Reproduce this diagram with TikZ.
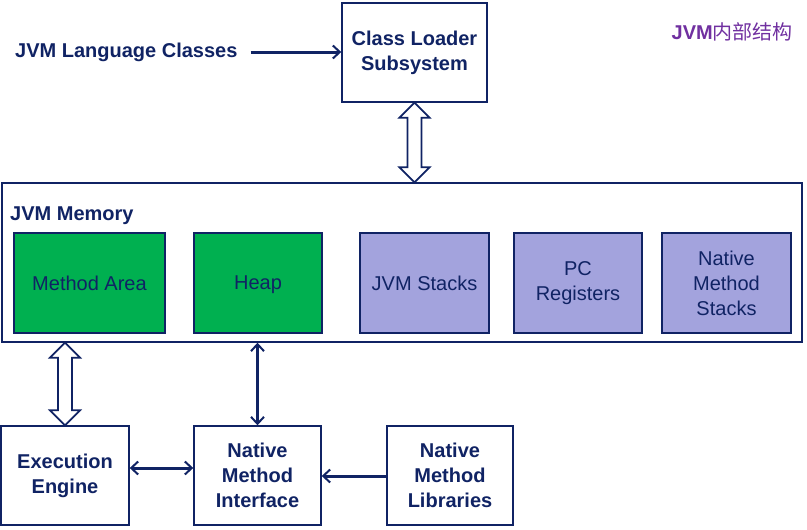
\documentclass[tikz,border=0pt]{standalone}
\usepackage{fontspec}
\setmainfont{Liberation Sans}
\newfontfamily\cjk{Noto Sans CJK SC}
\usetikzlibrary{arrows.meta,positioning,calc}
\definecolor{navy}{HTML}{102364}
\definecolor{areagreen}{HTML}{00B050}
\definecolor{stacklav}{HTML}{A3A3DD}
\definecolor{titlepurple}{HTML}{7030A0}
\tikzset{
    %Define standard arrow tip
    >={Straight Barb[length=7pt,width=13pt,line width=2pt]},
    %Define style for boxes
    block/.style={
           rectangle,
           draw=navy, line width=1.4pt,
           minimum width=128pt,
           minimum height=99pt,
           inner sep=0pt,
           font=\bfseries\fontsize{20}{25}\selectfont,
           text=navy,
           align=center,
           fill=white},
    membox/.style={
           block,
           font=\fontsize{20}{25}\selectfont,
           minimum width=129pt,
           minimum height=100pt},
    % Define arrow style
    pil/.style={
           ->,
           draw=navy,
           line width=3pt},
    hollow/.style={
           draw=navy, line width=1.8pt, fill=white, line join=miter}
}
% hollow two-headed arrow between two points on one vertical line
\newcommand{\hollowarrow}[2]{%
  \draw[hollow] (#1) -- ($(#1)+(15,15)$) -- ($(#1)+(7,15)$) -- ($(#2)+(7,-15)$)
     -- ($(#2)+(15,-15)$) -- (#2) -- ($(#2)+(-15,-15)$) -- ($(#2)+(-7,-15)$)
     -- ($(#1)+(-7,15)$) -- ($(#1)+(-15,15)$) -- cycle;}

\begin{document}
\begin{tikzpicture}[x=1pt,y=-1pt]
\useasboundingbox (0,0) rectangle (807,530);
\node[block, minimum width=145pt](CL) at (414.5,52.5){Class Loader\\Subsystem};
\node[anchor=west, font=\bfseries\fontsize{20}{25}\selectfont, text=navy, inner sep=0pt](JLC) at (15,52){JVM Language Classes};
\node[anchor=east, font=\fontsize{20}{25}\selectfont, text=titlepurple, inner sep=0pt](T) at (793,32){\textbf{JVM}\cjk 内部结构};
\node[block, minimum width=800pt, minimum height=159pt](Mem) at (402,262.5){};
\node[anchor=west, font=\bfseries\fontsize{20}{25}\selectfont, text=navy, inner sep=0pt](ML) at (10,216){JVM Memory};
\node[membox, fill=areagreen, minimum width=151pt](MA) at (89.5,283){Method Area};
\node[membox, fill=areagreen, minimum width=128pt, right=27.6pt of MA](H){\raisebox{0pt}[\height][0pt]{Heap}};
\node[membox, fill=stacklav, right=36.6pt of H](JS){JVM Stacks};
\node[membox, fill=stacklav, minimum width=128pt, right=23.6pt of JS](PC){PC\\Registers};
\node[membox, fill=stacklav, right=18.6pt of PC](NMS){Native\\Method\\Stacks};
\node[block](EE) at (65,475.5){Execution\\Engine};
\node[block, minimum width=127pt](NMI) at (257.5,475.5){Native\\Method\\Interface};
\node[block, minimum width=126pt](NML) at (450,475.5){Native\\Method\\Libraries};
\draw[pil, shorten <=13pt] (JLC.east) -- (CL.west |- JLC);
\hollowarrow{CL.south}{CL.south |- Mem.north}
\hollowarrow{EE.north |- Mem.south}{EE.north}
\draw[pil, <->] (NMI.north |- Mem.south) -- (NMI.north);
\draw[pil, <->] (EE.east |- 0,468) -- (NMI.west |- 0,468);
\draw[pil] (NML.west |- 0,476) -- (NMI.east |- 0,476);
\end{tikzpicture}
\end{document}
